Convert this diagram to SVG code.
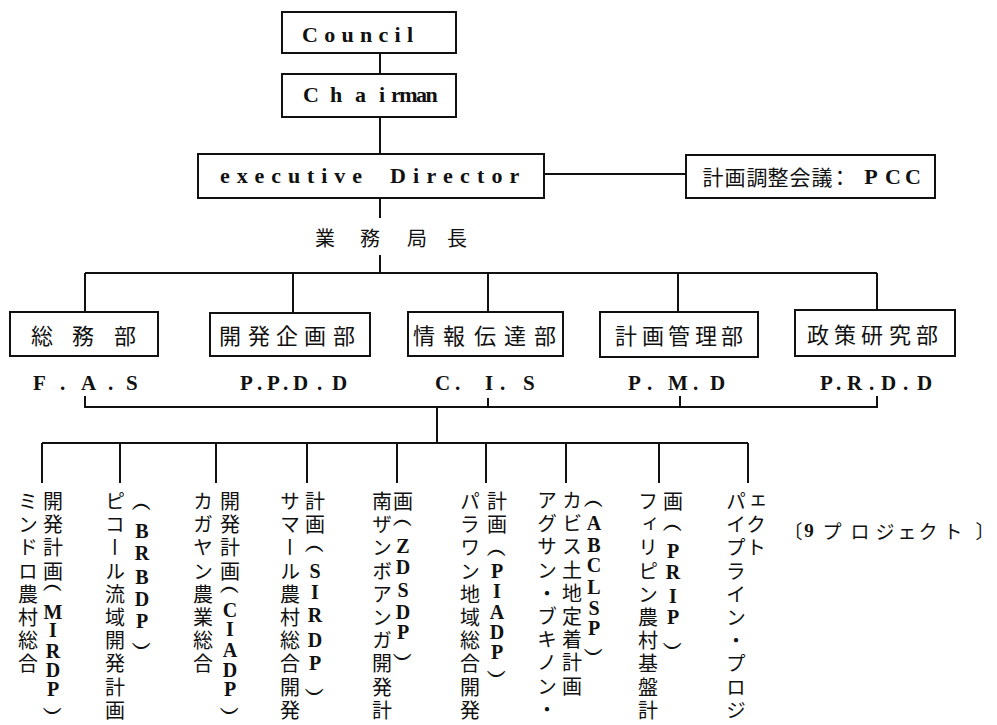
<svg xmlns="http://www.w3.org/2000/svg" width="997" height="725" viewBox="0 0 997 725">
<style>
.ln{stroke:#111;stroke-width:2;fill:none}
.box{fill:#fff;stroke:#111;stroke-width:2}
.lat{font-family:"Liberation Serif",serif;font-weight:bold;fill:#111}
.jp{font-family:"Noto Sans CJK JP","Noto Sans CJK SC",sans-serif;fill:#111}
.v{writing-mode:vertical-rl;text-orientation:upright;font-size:20px}
.c{text-anchor:middle;dominant-baseline:central}
</style>
<rect width="997" height="725" fill="#fff"/>
<g id="connectors">
<path class="ln" d="M380 53V74M380 117V154M544 174H686M380 198V218M380 255V273M85 273H877M85 273V312M293 273V313M488 273V312M678 273V312M877 273V310"/>
<path class="ln" d="M85 396V407H877V396M488 398V407M680 396V407M437 407V443M42 443H748M42 443V483M120 443V483M216 443V483M307 443V483M397 443V483M486 443V483M566 443V483M659 443V483M748 443V483"/>
</g>
<g id="council"><rect class="box" x="282" y="12" width="174" height="41"/><text class="lat" x="302" y="42" font-size="22" letter-spacing="6.3">Council</text></g>
<g id="chairman"><rect class="box" x="282" y="74" width="174" height="43"/><text class="lat" x="303 330 355 379" y="102" font-size="22">Chai<tspan x="391" letter-spacing="-1.5">rman</tspan></text></g>
<g id="executive"><rect class="box" x="198" y="154" width="346" height="44"/><text class="lat" x="220" y="183" font-size="22" letter-spacing="6.9">executive</text><text class="lat" x="390" y="183" font-size="22" letter-spacing="7.2">Director</text></g>
<g id="pcc"><rect class="box" x="686" y="155" width="249" height="43"/><text class="jp c" x="713 735 757 778 800 822 840" y="176" font-size="21">計画調整会議：</text><text class="lat c" x="871 893 913" y="176" font-size="22">PCC</text></g>
<g id="gyomu"><text class="jp c" x="325 370 417 457" y="237" font-size="20">業務局長</text></g>
<g id="fas"><rect class="box" x="10" y="312" width="148" height="44"/><text class="jp c" x="42 83 125" y="334" font-size="22">総務部</text><text class="lat" x="33 60 81 108 126" y="390" font-size="21">F.A.S</text></g>
<g id="ppdd"><rect class="box" x="210" y="313" width="160" height="43"/><text class="jp c" x="230 259 287 315 344" y="334" font-size="22">開発企画部</text><text class="lat" x="240 257 267 283 293 317 332" y="390" font-size="21">P.P.D.D</text></g>
<g id="cis"><rect class="box" x="408" y="312" width="155" height="44"/><text class="jp c" x="424 454 485 515 545" y="334" font-size="22">情報伝達部</text><text class="lat" x="435 455 485 500 523" y="390" font-size="21">C.I.S</text></g>
<g id="pmd"><rect class="box" x="600" y="312" width="158" height="45"/><text class="jp c" x="626 653 679 706 732" y="334" font-size="22">計画管理部</text><text class="lat" x="628 647 668 693 710" y="390" font-size="21">P.M.D</text></g>
<g id="prdd"><rect class="box" x="795" y="310" width="160" height="46"/><text class="jp c" x="818 845 872 900 927" y="333" font-size="22">政策研究部</text><text class="lat" x="820 836 847 869 881 903 917" y="390" font-size="21">P.R.D.D</text></g>
<g id="p1"><text class="jp v" x="28" y="491 514 537 561 584 607 630 653">ミンドロ農村総合</text><text class="jp v" x="53" y="491 514 537 561">開発計画</text><text class="lat v" x="53" y="578 601 619 640 659 678 695">（MIRDP）</text></g>
<g id="p2"><text class="jp v" x="115" y="491 514 537 561 584 607 630 653 677 700">ピコール流域開発計画</text><text class="lat v" x="142" y="497 520 542 566 588 610 630">（BRBDP）</text></g>
<g id="p3"><text class="jp v" x="203" y="491 514 537 561 584 607 630 653">カガヤン農業総合</text><text class="jp v" x="230" y="491 514 537 561">開発計画</text><text class="lat v" x="230" y="580 599 618 639 659 678 695">（CIADP）</text></g>
<g id="p4"><text class="jp v" x="290" y="491 514 537 561 584 607 630 653 677 700">サマール農村総合開発</text><text class="jp v" x="315" y="491 514">計画</text><text class="lat v" x="315" y="539 560 581 604 629 652 676">（SIRDP）</text></g>
<g id="p5"><text class="jp v" x="382" y="491 514 537 561 584 607 630 653 677 700">南ザンボアンガ開発計</text><text class="jp v" x="403" y="491">画</text><text class="lat v" x="403" y="513 535 556 579 601 621 641">（ZDSDP）</text></g>
<g id="p6"><text class="jp v" x="470" y="491 514 537 561 584 607 630 653 677 700">パラワン地域総合開発</text><text class="jp v" x="497" y="491 514">計画</text><text class="lat v" x="497" y="543 560 580 601 621 641 658">（PIADP）</text></g>
<g id="p7"><text class="jp v" x="547" y="490 513 536 560 583 606 629 652 676 699">アグサン・ブキノン・</text><text class="jp v" x="572" y="490 513 536 560 583 606 629 652 676">カビス土地定着計画</text><text class="lat v" x="594" y="494 512 534 554 576 597 617 636">（ABCLSP）</text></g>
<g id="p8"><text class="jp v" x="648" y="491 514 537 561 584 607 630 653 677 700">フィリピン農村基盤計</text><text class="jp v" x="673" y="491">画</text><text class="lat v" x="673" y="518 540 561 585 606 630">（PRIP）</text></g>
<g id="p9"><text class="jp v" x="736" y="491 514 537 561 584 607 630 653 677 700">パイプライン・プロジ</text><text class="jp v" x="756" y="491 514 537">ェクト</text></g>
<g id="nine"><text class="jp c" x="793 809 832 860 885 907 928 953 985" y="530" font-size="19">〔<tspan class="lat">9</tspan>プロジェクト〕</text></g>
</svg>
